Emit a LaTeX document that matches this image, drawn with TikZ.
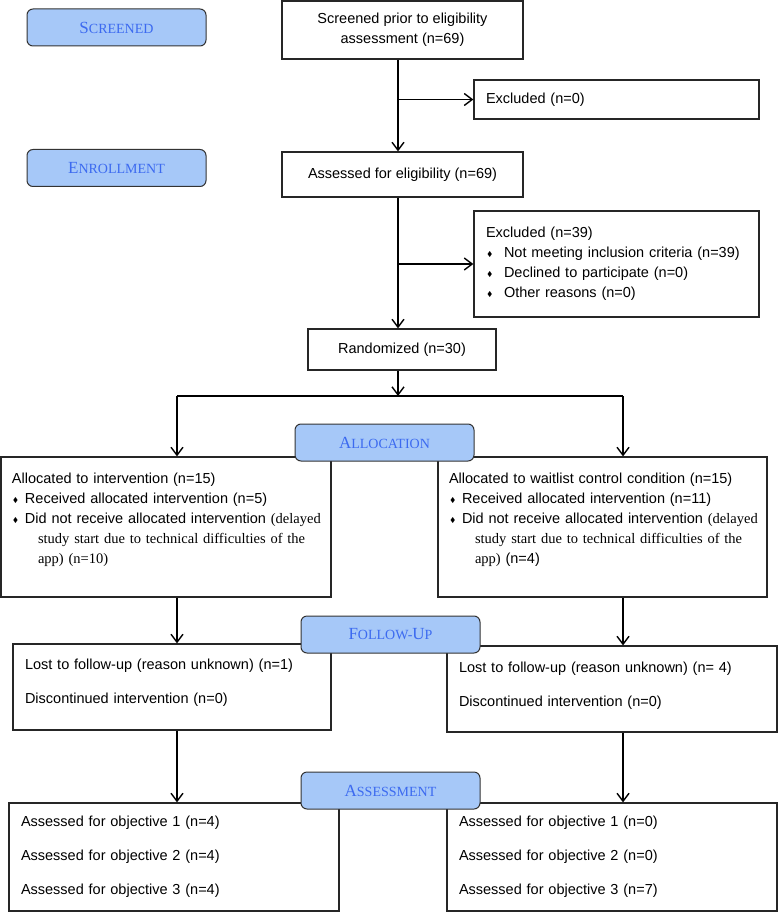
\documentclass[tikz,border=0pt]{standalone}
\usepackage{amssymb}
\usepackage{fontspec}
\setmainfont{Liberation Serif}
\setsansfont{Liberation Sans}
\usetikzlibrary{arrows.meta}
\definecolor{lblfill}{HTML}{A6C8F8}
\definecolor{lbltext}{HTML}{3C6AF0}
\newcommand{\capsc}[2]{{\fontsize{17}{17}\selectfont #1}{\fontsize{14}{17}\selectfont #2}}
\newcommand{\bul}[1][13pt]{\makebox[#1][l]{\hspace{1pt}\raisebox{1.5pt}{\fontsize{7}{7}\selectfont$\blacklozenge$}}}
\newcommand{\boxpad}[1]{\rule[-#1pt]{0pt}{#1pt}}

\begin{document}
\begin{tikzpicture}[x=1pt,y=-1pt,
	box/.style={draw=black!85, line width=1.2pt, fill=white, inner sep=0pt,
		font=\sffamily\fontsize{14.5}{20}\selectfont},
	leftbox/.style={box, align=left, inner xsep=#1},
	widebox/.style={leftbox=#1, font=\sffamily\fontsize{14.5}{34}\selectfont},
	phase/.style={draw=black!80, line width=1pt, fill=lblfill, text=lbltext,
		rounded corners=6pt, minimum width=179pt, minimum height=37pt,
		font=\rmfamily},
	arr/.style={-{Straight Barb[length=8pt,width=12pt]}, line width=1.4pt}]
	\useasboundingbox (0,0) rectangle (778,912);
	%enrollment boxes
	\node[box, align=center, minimum width=241pt, minimum height=58pt] (screen) at (402.5,30)
		{Screened prior to eligibility\\assessment (n=69)};
	\node[leftbox=12pt, text width=261pt, minimum height=39pt] (excl0) at (616.5,99.5)
		{Excluded (n=0)};
	\node[box, align=center, minimum width=241pt, minimum height=45pt] (assess) at (402.5,174.5)
		{Assessed for eligibility (n=69)};
	\node[leftbox=12pt, text width=261pt, minimum height=106pt] (excl39) at (616.5,264)
		{Excluded (n=39)\\
		\bul[18pt]Not meeting inclusion criteria (n=39)\\
		\bul[18pt]Declined to participate (n=0)\\
		\bul[18pt]Other reasons (n=0)};
	\node[box, align=center, minimum width=188pt, minimum height=41pt] (rand) at (402,349.5)
		{Randomized (n=30)};
	%allocation boxes
	\node[leftbox=11pt, text width=308pt, minimum height=140pt] (allocL) at (166,527)
		{Allocated to intervention (n=15)\\
		\bul Received allocated intervention (n=5)\\
		\makebox[308pt][s]{\bul Did not receive allocated intervention \rmfamily (delayed}\\
		\hspace*{26pt}\makebox[282pt][s]{\rmfamily study start due to technical difficulties of the}\\
		\hspace*{26pt}{\rmfamily app) (n=10)}\boxpad{17}};
	\node[leftbox=11pt, text width=307pt, minimum height=140pt] (allocR) at (602.5,527)
		{Allocated to waitlist control condition (n=15)\\
		\bul Received allocated intervention (n=11)\\
		\makebox[307pt][s]{\bul Did not receive allocated intervention \rmfamily (delayed}\\
		\hspace*{26pt}\makebox[281pt][s]{\rmfamily study start due to technical difficulties of the}\\
		\hspace*{26pt}{\rmfamily app)} (n=4)\boxpad{17}};
	%follow-up boxes
	\node[widebox=12pt, text width=294pt, minimum height=86pt] (followL) at (172,687)
		{Lost to follow-up (reason unknown) (n=1)\\Discontinued intervention (n=0)\boxpad{12}};
	\node[widebox=12pt, text width=306pt, minimum height=86pt] (followR) at (612,689)
		{Lost to follow-up (reason unknown) (n= 4)\\Discontinued intervention (n=0)\boxpad{10}};
	%assessment boxes
	\node[widebox=12pt, text width=306pt, minimum height=108pt] (assessL) at (174,857)
		{Assessed for objective 1 (n=4)\\Assessed for objective 2 (n=4)\\Assessed for objective 3 (n=4)};
	\node[widebox=12pt, text width=306pt, minimum height=108pt] (assessR) at (612,857)
		{Assessed for objective 1 (n=0)\\Assessed for objective 2 (n=0)\\Assessed for objective 3 (n=7)};
	%connectors
	\coordinate (trunk) at (398,0);
	\coordinate (split) at (398,396);
	\coordinate (armL) at (177,396);
	\coordinate (armR) at (623,396);
	\draw[arr] (screen.south -| trunk) -- (assess.north -| trunk);
	\draw[arr] (excl0.west -| trunk) -- (excl0.west);
	\draw[arr] (assess.south -| trunk) -- (rand.north -| trunk);
	\draw[arr] (excl39.west -| trunk) -- (excl39.west);
	\draw[arr] (rand.south -| trunk) -- (split);
	\draw[line width=1.4pt] (armL) -- (armR);
	\draw[arr] (armL) -- (armL |- allocL.north);
	\draw[arr] (armR) -- (armR |- allocR.north);
	\draw[arr] (allocL.south -| armL) -- (followL.north -| armL);
	\draw[arr] (allocR.south -| armR) -- (followR.north -| armR);
	\draw[arr] (followL.south -| armL) -- (assessL.north -| armL);
	\draw[arr] (followR.south -| armR) -- (assessR.north -| armR);
	%phase labels
	\node[phase] (screenlbl) at (116.5,27.5) {\capsc{S}{CREENED}};
	\node[phase] (enrollbl) at (116.5,168) {\capsc{E}{NROLLMENT}};
	\node[phase] (alloclbl) at (384.5,442.5) {\capsc{A}{LLOCATION}};
	\node[phase] (followlbl) at (390.5,634.5) {\capsc{F}{OLLOW-}\capsc{U}{P}};
	\node[phase] (assesslbl) at (390.5,790.5) {\capsc{A}{SSESSMENT}};
\end{tikzpicture}
\end{document}
